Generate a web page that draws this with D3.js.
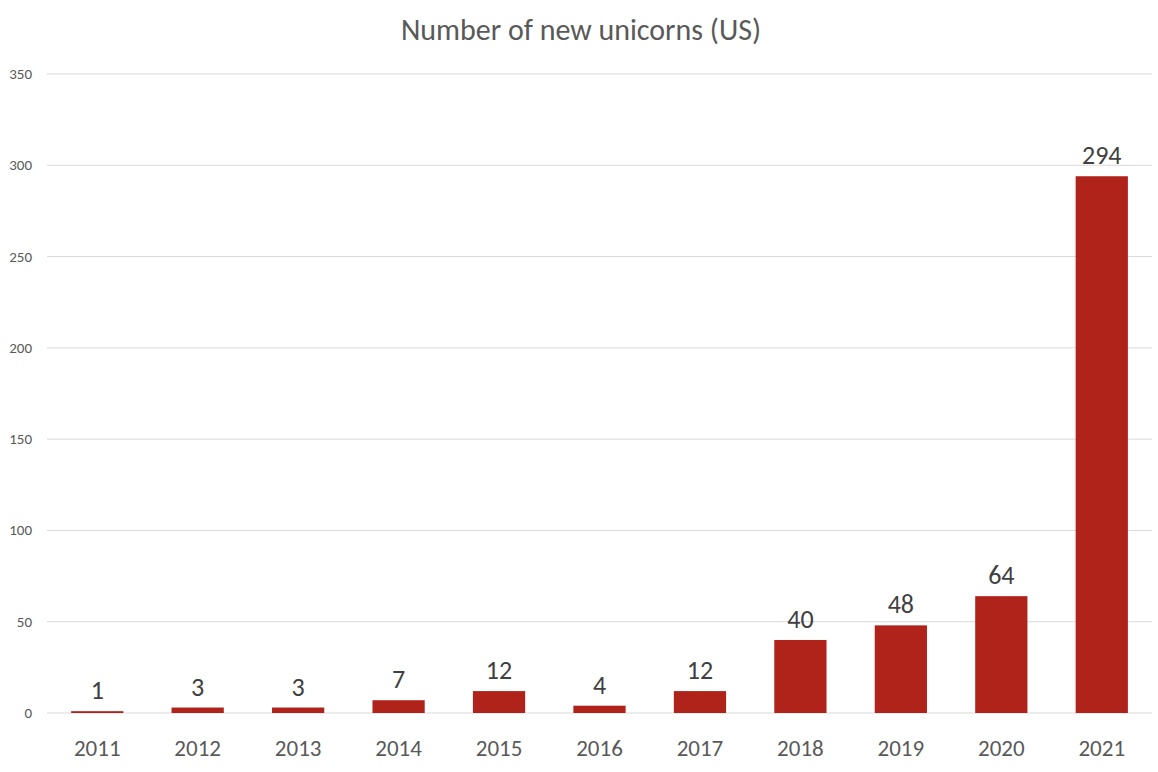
<!DOCTYPE html>
<html><head><meta charset="utf-8">
<script src="https://cdn.jsdelivr.net/npm/d3@7"></script>
<style>body{margin:0;background:#fff;font-family:Calibri,Carlito,"Open Sans",sans-serif;}</style>
</head><body>
<script>
const years = ["2011","2012","2013","2014","2015","2016","2017","2018","2019","2020","2021"];
const values = [1,3,3,7,12,4,12,40,48,64,294];
const yTicks = [0,50,100,150,200,250,300,350];

const width = 1158, height = 772;
const svg = d3.select("body").append("svg").attr("width", width).attr("height", height);

const x = d3.scaleBand().domain(years).range([47, 1152]).paddingInner(0.48).paddingOuter(0.24);
const y = d3.scaleLinear().domain([0, 350]).range([713, 74]);

// gridlines
svg.append("g").selectAll("line").data(yTicks).join("line")
    .attr("x1", 47).attr("x2", 1152)
    .attr("y1", d => y(d)).attr("y2", d => y(d))
    .attr("stroke", "#d9d9d9").attr("stroke-width", 1);

// y labels
svg.append("g").selectAll("text").data(yTicks).join("text")
    .attr("x", 32).attr("y", d => y(d) + 5)
    .attr("text-anchor", "end").attr("font-size", 15).attr("fill", "#595959")
    .text(d => d);

// bars
svg.append("g").selectAll("rect").data(values).join("rect")
    .attr("x", (d, i) => x(years[i])).attr("width", x.bandwidth())
    .attr("y", d => y(d)).attr("height", d => y(0) - y(d))
    .attr("fill", "#b0231a");

// value labels
svg.append("g").selectAll("text").data(values).join("text")
    .attr("x", (d, i) => x(years[i]) + x.bandwidth() / 2).attr("y", d => y(d) - 12)
    .attr("text-anchor", "middle").attr("font-size", 26).attr("fill", "#404040")
    .text(d => d);

// x labels
svg.append("g").selectAll("text").data(years).join("text")
    .attr("x", d => x(d) + x.bandwidth() / 2).attr("y", 756)
    .attr("text-anchor", "middle").attr("font-size", 23).attr("fill", "#595959")
    .text(d => d);

svg.append("text").attr("x", 581).attr("y", 40).attr("text-anchor", "middle")
    .attr("font-size", 30).attr("fill", "#595959").text("Number of new unicorns (US)");
</script>
</body></html>
